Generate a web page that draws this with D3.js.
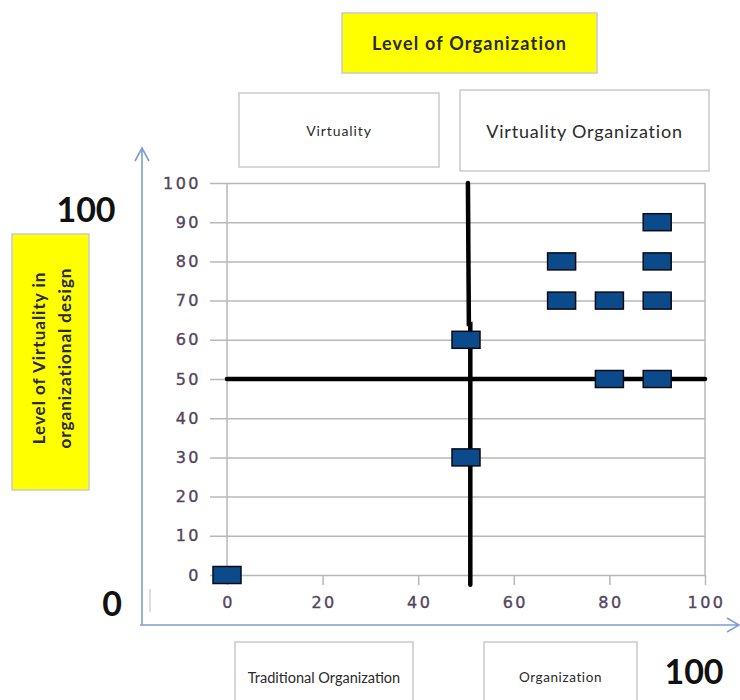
<!DOCTYPE html>
<html>
<head>
<meta charset="utf-8">
<script src="https://cdn.jsdelivr.net/npm/d3@7"></script>
<style>
  html, body { margin: 0; padding: 0; background: #fff; }
  svg { display: block; }
</style>
</head>
<body>
<svg id="chart" width="740" height="700"></svg>
<script>
// Organizations plotted by level of organization (x) and level of virtuality (y)
const organizationLevel = [0, 50, 50, 70, 70, 80, 80, 90, 90, 90, 90];
const virtualityLevel   = [0, 30, 60, 70, 80, 70, 50, 90, 80, 70, 50];
const xTickValues = [0, 20, 40, 60, 80, 100];
const yTickValues = [0, 10, 20, 30, 40, 50, 60, 70, 80, 90, 100];
const quadrantSplit = 50;

const svg = d3.select("#chart");
const x = d3.scaleLinear().domain([0, 100]).range([227, 705]);
const y = d3.scaleLinear().domain([0, 100]).range([575, 183]);

const grid = "#b8b8b8";
const tickFont = "'DejaVu Sans', Verdana, sans-serif";
const tickColor = "#54445c";
const boxFont = "Lato, 'Open Sans', sans-serif";

// --- Boxes with captions -------------------------------------------------
function box(x0, y0, w, h, fill, label, size, weight, spacing) {
  svg.append("rect").attr("x", x0).attr("y", y0).attr("width", w).attr("height", h)
    .attr("fill", fill).attr("stroke", "#cacaca").attr("stroke-width", 1.5);
  svg.append("text").attr("x", x0 + w / 2).attr("y", y0 + h / 2)
    .attr("text-anchor", "middle").attr("dominant-baseline", "central")
    .attr("font-family", boxFont).attr("font-size", size)
    .attr("font-weight", weight || "normal")
    .attr("letter-spacing", spacing || 0)
    .attr("fill", "#2a2a2a").text(label);
}
box(342, 13, 255, 60, "#ffff00", "Level of Organization", 18, "bold", 1.2);
box(239, 93, 200, 74, "#ffffff", "Virtuality", 14, "normal", 0.9);
box(460, 90, 249, 81, "#ffffff", "Virtuality Organization", 18, "normal", 0.8);
box(235, 642, 178, 70, "#ffffff", "Traditional Organization", 14.5, "normal", 0);
box(484, 642, 153, 70, "#ffffff", "Organization", 13.5, "normal", 0.6);

// Vertical yellow caption for the virtuality axis
svg.append("rect").attr("x", 12).attr("y", 234).attr("width", 77).attr("height", 256)
  .attr("fill", "#ffff00").attr("stroke", "#cacaca").attr("stroke-width", 1.5);
const vCap = svg.append("text")
  .attr("transform", "translate(53,358) rotate(-90)")
  .attr("text-anchor", "middle")
  .attr("font-family", boxFont).attr("font-size", 17).attr("font-weight", "bold")
  .attr("letter-spacing", 1)
  .attr("fill", "#2a2a2a");
vCap.append("tspan").attr("x", 0).attr("dy", -8).text("Level of Virtuality in");
vCap.append("tspan").attr("x", 0).attr("dy", 26).text("organizational  design");

// Big range labels
const big = (tx, ty, t) => svg.append("text").attr("x", tx).attr("y", ty)
  .attr("text-anchor", "middle").attr("font-family", "Lato, 'Open Sans', sans-serif")
  .attr("font-size", 34).attr("font-weight", "bold").attr("fill", "#111").text(t);
big(86, 222, "100");
big(112, 616, "0");
big(694, 684, "100");

// --- Outer blue arrows -----------------------------------------------------
const blue = "#7f9fd2";
const arrows = svg.append("g").attr("stroke", blue).attr("stroke-width", 1.6).attr("fill", "none");
arrows.append("path").attr("d", "M142,625 L142,148 M135,161 L142,148 L149,161");
arrows.append("path").attr("d", "M140,625 L739,625 M727,618 L739,625 L727,632");
svg.append("line").attr("x1", 150).attr("x2", 150).attr("y1", 589).attr("y2", 612)
  .attr("stroke", "#c8c8c8").attr("stroke-width", 1.2);

// --- Plot area --------------------------------------------------------------
// Horizontal gridlines, including outer tick stubs on the left
const yAxis = d3.axisLeft(y).tickValues(yTickValues)
  .tickSizeInner(-(x(100) - x(0))).tickSizeOuter(0).tickPadding(28);
const gy = svg.append("g").attr("transform", `translate(${x(0)},0)`).call(yAxis);
gy.select(".domain").remove();
gy.selectAll(".tick line").attr("x1", -17).attr("stroke", grid).attr("stroke-width", 1.5);
gy.selectAll(".tick text").attr("font-family", tickFont).attr("font-size", 16)
  .attr("letter-spacing", 2.5).attr("fill", tickColor)
  .attr("stroke", tickColor).attr("stroke-width", 0.35).attr("dx", 2);

// Vertical frame lines at both ends of the x range
svg.append("line").attr("x1", x(0)).attr("x2", x(0)).attr("y1", y(100)).attr("y2", y(0))
  .attr("stroke", grid).attr("stroke-width", 1.5);
svg.append("line").attr("x1", x(100)).attr("x2", x(100)).attr("y1", y(100)).attr("y2", y(0))
  .attr("stroke", grid).attr("stroke-width", 1.5);

// X axis ticks hanging below the zero line
const xAxis = d3.axisBottom(x).tickValues(xTickValues).tickSize(10).tickPadding(12);
const gx = svg.append("g").attr("transform", `translate(0,${y(0)})`).call(xAxis);
gx.select(".domain").remove();
gx.selectAll(".tick line").attr("stroke", grid).attr("stroke-width", 1.5);
gx.selectAll(".tick text").attr("font-family", tickFont).attr("font-size", 16)
  .attr("letter-spacing", 2.5).attr("fill", tickColor)
  .attr("stroke", tickColor).attr("stroke-width", 0.35).attr("dx", 1);

// Quadrant dividers
const divider = svg.append("g").attr("stroke", "#000").attr("stroke-width", 4.5)
  .attr("stroke-linecap", "round").attr("fill", "none");
divider.append("line")
  .attr("x1", x(0)).attr("y1", y(quadrantSplit))
  .attr("x2", x(100)).attr("y2", y(quadrantSplit));
divider.append("path").attr("d", d3.line()([
  [x(quadrantSplit + 0.4), y(100)],
  [x(quadrantSplit + 0.6), y(64)],
  [x(quadrantSplit + 0.9), y(64)],
  [x(quadrantSplit + 0.9), y(-2.5)]
]));

// Data markers
const pts = organizationLevel.map((v, i) => ({ x: v, y: virtualityLevel[i] }));
svg.append("g").selectAll("rect").data(pts).join("rect")
  .attr("x", d => x(d.x) - 14).attr("y", d => y(d.y) - 8.5)
  .attr("width", 28).attr("height", 17)
  .attr("fill", "#0b4a8b").attr("stroke", "#0a0a14").attr("stroke-width", 1.5);
</script>
</body>
</html>
